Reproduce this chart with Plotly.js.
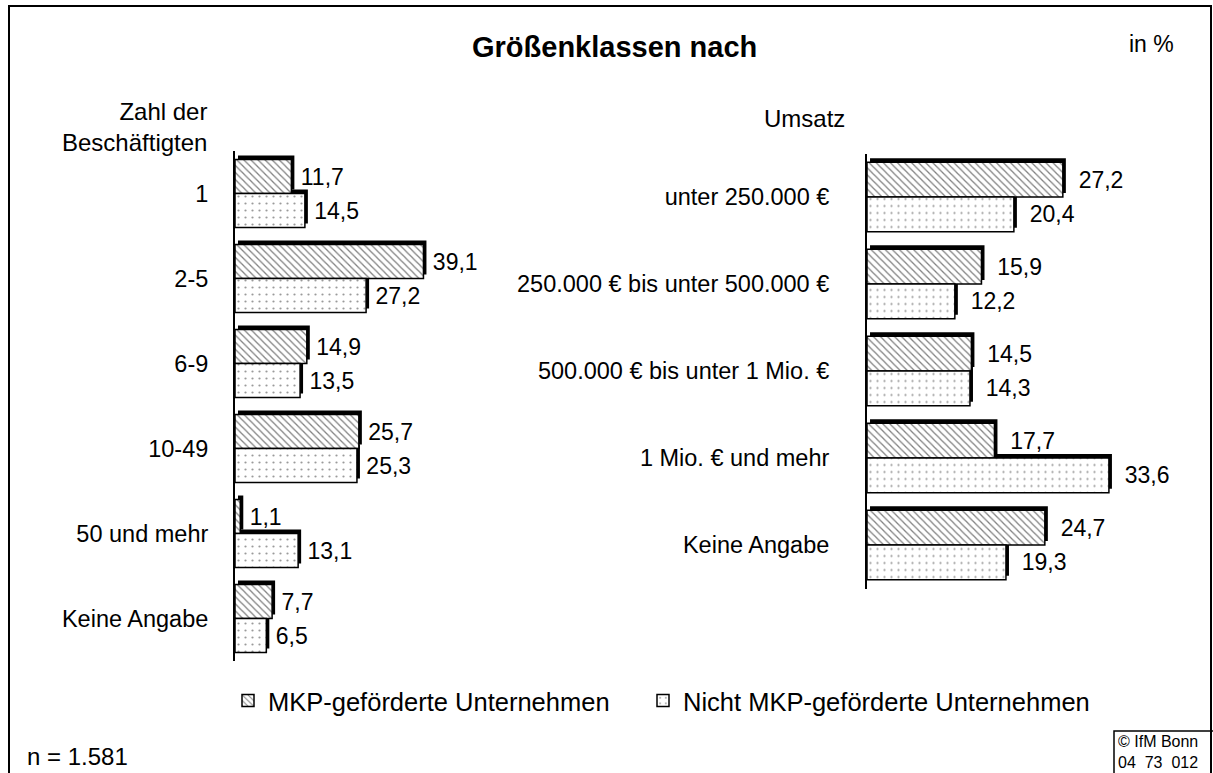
<!DOCTYPE html>
<html><head><meta charset="utf-8">
<script src="https://cdn.plot.ly/plotly-3.0.1.min.js"></script>
<style>html,body{margin:0;padding:0;background:#fff}</style>
</head><body><div id="chart" style="width:1213px;height:773px"></div>
<script>
// ---- data ----
const empCategories = ['1', '2-5', '6-9', '10-49', '50 und mehr', 'Keine Angabe'];
const empMKP = [11.7, 39.1, 14.9, 25.7, 1.1, 7.7];
const empNonMKP = [14.5, 27.2, 13.5, 25.3, 13.1, 6.5];
const revCategories = ['unter 250.000 €', '250.000 € bis unter 500.000 €', '500.000 € bis unter 1 Mio. €', '1 Mio. € und mehr', 'Keine Angabe'];
const revMKP = [27.2, 15.9, 14.5, 17.7, 24.7];
const revNonMKP = [20.4, 12.2, 14.3, 33.6, 19.3];
const seriesNames = ['MKP-geförderte Unternehmen', 'Nicht MKP-geförderte Unternehmen'];

// ---- layout helpers ----
const W = 1213, H = 773;
const px = x => x / W;
const py = y => 1 - y / H;
const FONT = 'Liberation Sans, Arial, sans-serif';

const patMKP = {shape: '\\', fgcolor: '#808080', bgcolor: '#ffffff', size: 5, solidity: 0.25};
const patNon = {shape: '.', fgcolor: '#9a9a9a', bgcolor: '#ffffff', size: 7, solidity: 0.08};

function shadow(vals, cats, xa, ya, off, shiftX, shiftY) {
  return {type: 'bar', orientation: 'h', x: vals, y: cats, base: shiftX,
    offset: off - shiftY, width: 0.4, xaxis: xa, yaxis: ya,
    marker: {color: '#000', line: {width: 0}}, hoverinfo: 'skip', showlegend: false};
}
function main(vals, cats, xa, ya, off, name, pat, legend, showleg, tmpl) {
  return {type: 'bar', orientation: 'h', x: vals, y: cats, name: name,
    offset: off, width: 0.4, xaxis: xa, yaxis: ya, legend: legend, showlegend: showleg,
    marker: {color: '#fff', pattern: pat, line: {color: '#000', width: 1.5}},
    texttemplate: tmpl, textposition: 'outside', cliponaxis: false, constraintext: 'none',
    textfont: {family: FONT, size: 23, color: '#000'}};
}

const data = [
  shadow(empMKP, empCategories, 'x', 'y', -0.4, 0.62, 0.047),
  shadow(empNonMKP, empCategories, 'x', 'y', 0, 0.62, 0.047),
  shadow(revMKP, revCategories, 'x2', 'y2', -0.4, 0.42, 0.046),
  shadow(revNonMKP, revCategories, 'x2', 'y2', 0, 0.42, 0.046),
  main(empMKP, empCategories, 'x', 'y', -0.4, seriesNames[0], patMKP, 'legend', true, '\u00a0%{x:.1f}'),
  main(empNonMKP, empCategories, 'x', 'y', 0, seriesNames[1], patNon, 'legend2', true, '\u00a0%{x:.1f}'),
  main(revMKP, revCategories, 'x2', 'y2', -0.4, seriesNames[0], patMKP, 'legend', false, '\u00a0\u00a0%{x:.1f}'),
  main(revNonMKP, revCategories, 'x2', 'y2', 0, seriesNames[1], patNon, 'legend2', false, '\u00a0\u00a0%{x:.1f}')
];

const yCommon = {type: 'category', showline: true, linecolor: '#000', linewidth: 2, ticks: '',
  showgrid: false, zeroline: false, tickfont: {family: FONT, size: 23.5, color: '#000'}, fixedrange: true};
const xCommon = {visible: false, showgrid: false, zeroline: false, fixedrange: true};

const layout = {
  width: W, height: H,
  margin: {l: 0, r: 0, t: 0, b: 0},
  paper_bgcolor: '#fff', plot_bgcolor: 'rgba(0,0,0,0)',
  separators: ',.',
  barmode: 'overlay',
  font: {family: FONT, color: '#000'},
  xaxis: Object.assign({}, xCommon, {domain: [px(235), px(476)], range: [0, 50], anchor: 'y'}),
  yaxis: Object.assign({}, yCommon, {domain: [py(661), py(151)], range: [5.5, -0.5], anchor: 'x', ticklabelstandoff: 20}),
  xaxis2: Object.assign({}, xCommon, {domain: [px(867), px(1155)], range: [0, 40], anchor: 'y2'}),
  yaxis2: Object.assign({}, yCommon, {domain: [py(588.5), py(153.5)], range: [4.5, -0.5], anchor: 'x2', ticklabelstandoff: 31}),
  legend: {x: px(228), xanchor: 'left', y: py(701), yanchor: 'middle', orientation: 'h',
    font: {family: FONT, size: 25.5, color: '#000'}, bgcolor: 'rgba(0,0,0,0)', borderwidth: 0},
  legend2: {x: px(643), xanchor: 'left', y: py(701), yanchor: 'middle', orientation: 'h',
    font: {family: FONT, size: 25.5, color: '#000'}, bgcolor: 'rgba(0,0,0,0)', borderwidth: 0},
  shapes: [
    {type: 'rect', xref: 'paper', yref: 'paper', x0: px(9), x1: px(1211), y0: py(800), y1: py(6),
      line: {color: '#000', width: 2}, fillcolor: 'rgba(0,0,0,0)'},
    {type: 'rect', xref: 'paper', yref: 'paper', x0: px(1114), x1: px(1230), y0: py(800), y1: py(731),
      line: {color: '#000', width: 1.5}, fillcolor: 'rgba(0,0,0,0)'}
  ],
  annotations: [
    {text: '<b>Größenklassen nach</b>', xref: 'paper', yref: 'paper', x: px(615), y: py(47),
      xanchor: 'center', yanchor: 'middle', showarrow: false, font: {family: FONT, size: 29}},
    {text: 'in %', xref: 'paper', yref: 'paper', x: px(1151), y: py(44),
      xanchor: 'center', yanchor: 'middle', showarrow: false, font: {family: FONT, size: 23}},
    {text: 'Zahl der<br>Beschäftigten', xref: 'paper', yref: 'paper', x: px(209), y: py(127),
      xanchor: 'right', yanchor: 'middle', align: 'right', showarrow: false, font: {family: FONT, size: 24}},
    {text: 'Umsatz', xref: 'paper', yref: 'paper', x: px(805), y: py(118),
      xanchor: 'center', yanchor: 'middle', showarrow: false, font: {family: FONT, size: 24}},
    {text: 'n = 1.581', xref: 'paper', yref: 'paper', x: px(25), y: py(772),
      xanchor: 'left', yanchor: 'bottom', showarrow: false, font: {family: FONT, size: 24}},
    {text: '© IfM Bonn<br>04  73  012', xref: 'paper', yref: 'paper', x: px(1116), y: py(773),
      xanchor: 'left', yanchor: 'bottom', align: 'left', showarrow: false, font: {family: FONT, size: 16}}
  ]
};

Plotly.newPlot('chart', data, layout, {displayModeBar: false, staticPlot: true});
</script>
</body></html>
